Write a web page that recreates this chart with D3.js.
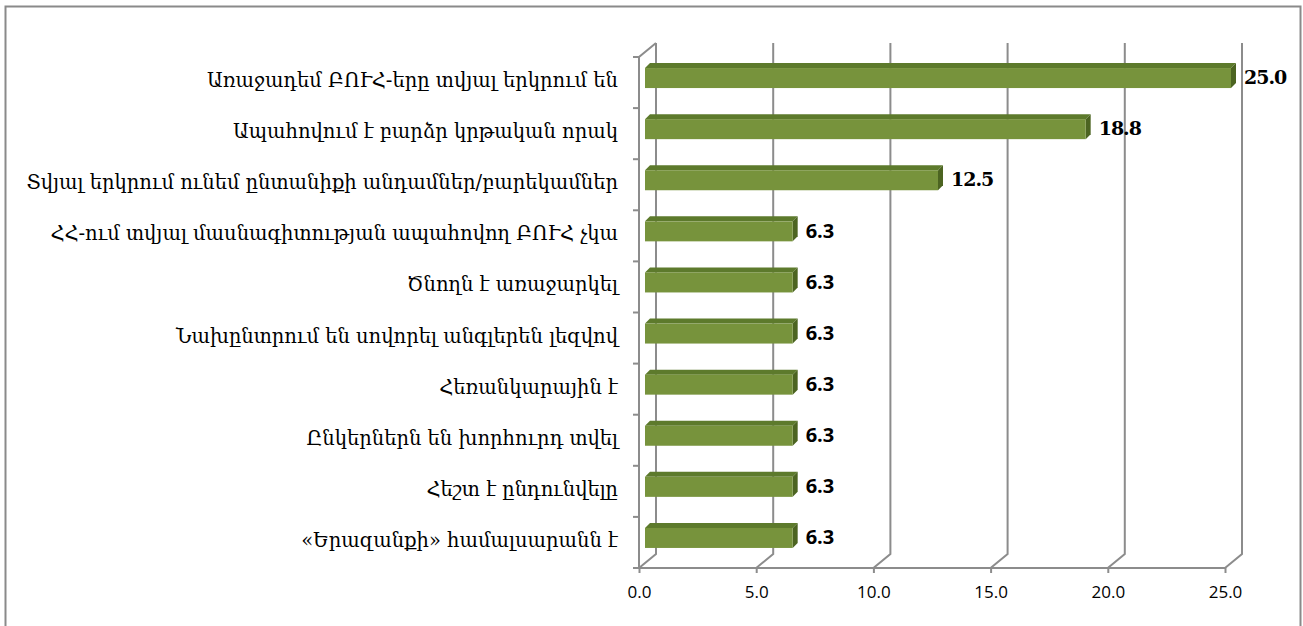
<!DOCTYPE html>
<html>
<head>
<meta charset="utf-8">
<script src="https://cdn.jsdelivr.net/npm/d3@7"></script>
<style>
  body { margin: 0; background: #fff; }
</style>
</head>
<body>
<div id="chart"></div>
<script>
// categories top to bottom, and their values (percent)
let categories = [
    "Առաջադեմ ԲՈՒՀ-երը տվյալ երկրում են",
    "Ապահովում է բարձր կրթական որակ",
    "Տվյալ երկրում ունեմ ընտանիքի անդամներ/բարեկամներ",
    "ՀՀ-ում տվյալ մասնագիտության ապահովող ԲՈՒՀ չկա",
    "Ծնողն է առաջարկել",
    "Նախընտրում են սովորել անգլերեն լեզվով",
    "Հեռանկարային է",
    "Ընկերներն են խորհուրդ տվել",
    "Հեշտ է ընդունվելը",
    "«Երազանքի» համալսարանն է"
]
let values = [25.0, 18.8, 12.5, 6.3, 6.3, 6.3, 6.3, 6.3, 6.3, 6.3]
let xTicks = [0, 5, 10, 15, 20, 25]

let W = 1303, H = 626

// 3D depth offset of the back wall
let depthX = 17, depthY = -14

let svg = d3.select("#chart")
    .append("svg")
    .attr("width", W)
    .attr("height", H)

// outer frame
svg.append("rect")
    .attr("x", 5.5).attr("y", 6.5)
    .attr("width", 1295).attr("height", 640)
    .attr("fill", "none")
    .attr("stroke", "#8a8a8a")
    .attr("stroke-width", 2)

// scales (front plane)
let x = d3.scaleLinear()
    .domain([0, 25])
    .range([639, 1225]);

let y = d3.scaleBand()
    .domain(categories)
    .range([57, 568]);

let gridColor = "#8c8c8c"

// back wall gridlines + floor diagonals
let grid = svg.append("g")
grid.selectAll("path.grid")
    .data(xTicks)
    .enter()
    .append("path")
    .attr("class", "grid")
    .attr("d", function (d) {
        let fx = x(d), bx = x(d) + depthX
        return "M" + fx + "," + y.range()[1] +
            "L" + bx + "," + (y.range()[1] + depthY) +
            "L" + bx + "," + (y.range()[0] + depthY)
    })
    .attr("fill", "none")
    .attr("stroke", gridColor)
    .attr("stroke-width", 2)

// left wall front edge + top diagonal
grid.append("path")
    .attr("d", "M" + x(0) + "," + y.range()[1] +
        "L" + x(0) + "," + y.range()[0] +
        "L" + (x(0) + depthX) + "," + (y.range()[0] + depthY))
    .attr("fill", "none")
    .attr("stroke", gridColor)
    .attr("stroke-width", 2)

// floor front edge
grid.append("line")
    .attr("x1", x(0)).attr("x2", x(25))
    .attr("y1", y.range()[1]).attr("y2", y.range()[1])
    .attr("stroke", gridColor)
    .attr("stroke-width", 2)

// category ticks on the left wall
let bounds = categories.map(function (d) { return y(d) }).concat([y.range()[1]])
grid.selectAll("line.ctick")
    .data(bounds)
    .enter()
    .append("line")
    .attr("class", "ctick")
    .attr("x1", x(0) - 6).attr("x2", x(0))
    .attr("y1", function (d) { return d }).attr("y2", function (d) { return d })
    .attr("stroke", gridColor)
    .attr("stroke-width", 2)

// x axis labels
let xAxis = svg.append("g")
    .attr("transform", "translate(0," + y.range()[1] + ")")
    .call(d3.axisBottom(x).tickValues(xTicks).tickFormat(d3.format(".1f")).tickSize(5).tickPadding(13))
xAxis.select(".domain").remove()
xAxis.selectAll(".tick line").attr("stroke", gridColor).attr("stroke-width", 2)
xAxis.selectAll("text")
    .style("font-family", "'Open Sans', 'Liberation Sans', sans-serif")
    .style("font-size", "17px")
    .attr("fill", "#000")

// bars (front face offset into depth)
let barOff = 6, barH = 20, topDx = 5, topDy = -5
let barData = categories.map(function (c, i) { return { cat: c, v: values[i], i: i } })

let bars = svg.append("g").selectAll("g.bar")
    .data(barData)
    .enter()
    .append("g")
    .attr("class", "bar")

function cy(d) { return y(d.cat) + y.bandwidth() / 2 - 4.5 }

// top face
bars.append("path")
    .attr("d", function (d) {
        let x0 = x(0) + barOff, x1 = x(d.v) + barOff, t = cy(d) - barH / 2
        return "M" + x0 + "," + t + "L" + (x0 + topDx) + "," + (t + topDy) +
            "L" + (x1 + topDx) + "," + (t + topDy) + "L" + x1 + "," + t + "Z"
    })
    .attr("fill", "#5d7a2c")
// side face
bars.append("path")
    .attr("d", function (d) {
        let x1 = x(d.v) + barOff, t = cy(d) - barH / 2
        return "M" + x1 + "," + t + "L" + (x1 + topDx) + "," + (t + topDy) +
            "L" + (x1 + topDx) + "," + (t + topDy + barH) + "L" + x1 + "," + (t + barH) + "Z"
    })
    .attr("fill", "#4c6421")
// front face
bars.append("rect")
    .attr("x", x(0) + barOff)
    .attr("y", function (d) { return cy(d) - barH / 2 })
    .attr("width", function (d) { return x(d.v) - x(0) })
    .attr("height", barH)
    .attr("fill", "#77933c")

// value labels
bars.append("text")
    .attr("x", function (d) { return x(d.v) + barOff + topDx + 8 })
    .attr("y", function (d) { return cy(d) - 1 })
    .attr("dominant-baseline", "central")
    .style("font-family", function (d) {
        return d.i < 3 ? "'DejaVu Serif', serif" : "'Open Sans', 'Liberation Sans', sans-serif"
    })
    .style("font-weight", "bold")
    .style("font-size", function (d) { return d.i < 3 ? "19px" : "20px" })
    .style("letter-spacing", function (d) { return d.i < 3 ? "-1px" : "0px" })
    .attr("fill", "#000")
    .text(function (d) { return d3.format(".1f")(d.v) })

// category labels
svg.append("g").selectAll("text.cat")
    .data(categories)
    .enter()
    .append("text")
    .attr("class", "cat")
    .attr("x", 618)
    .attr("y", function (d) { return y(d) + y.bandwidth() / 2 - 2 })
    .attr("text-anchor", "end")
    .attr("dominant-baseline", "central")
    .style("font-family", "'DejaVu Serif', serif")
    .style("font-size", "19.5px")
    .attr("fill", "#000")
    .text(function (d) { return d })
</script>
</body>
</html>
